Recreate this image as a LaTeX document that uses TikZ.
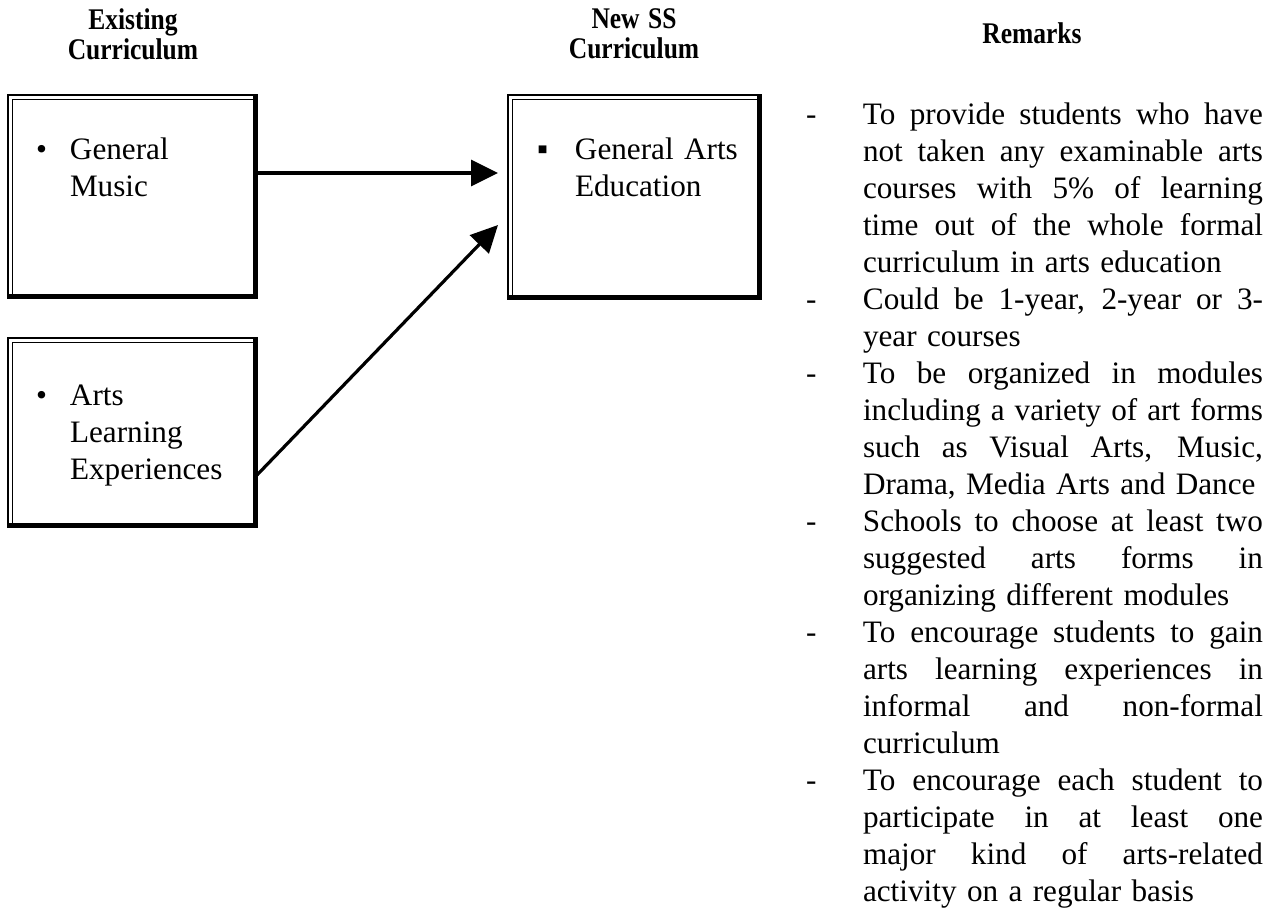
\documentclass[tikz,border=0pt]{standalone}
\usepackage{fontspec}
\setmainfont{Liberation Serif}
\usetikzlibrary{arrows.meta,calc}
\newcommand\J[1]{{\spaceskip=0pt\xspaceskip=0pt\makebox[\hsize][s]{#1}}}
\newcommand\dashitem{\leavevmode\llap{\makebox[57pt][l]{-}}}
\newcommand\hd[1]{\scalebox{0.85}[1]{#1}}
\begin{document}
\begin{tikzpicture}[x=1pt,y=-1pt,
  body/.style={inner sep=0pt, outer sep=0pt, anchor=north west, align=left,
    font=\fontsize{31.2}{37}\selectfont},
  head/.style={inner sep=0pt, anchor=north, align=center, text width=260pt,
    font=\fontsize{30}{28}\selectfont\bfseries},
  boxn/.style={inner sep=0pt, outer sep=0pt, draw=none},
  arr/.style={line width=3.2pt, -{Triangle[length=27pt,width=26pt]}}]
\useasboundingbox (0,0) rectangle (1282,914);
\newcommand\dbox[1]{%
  \draw[line width=2pt] (#1.north west) rectangle (#1.south east);
  \draw[line width=1pt] ([shift={(4,4)}]#1.north west) rectangle ([shift={(-4,-4)}]#1.south east);
  \draw[line width=4.5pt] ([shift={(-1.5,0)}]#1.north east) -- ([shift={(-1.5,-1.5)}]#1.south east) -- ([shift={(0,-1.5)}]#1.south west);}
% headers
\node[head] (h1) at (133,8) {\strut\hd{Existing}\\\hd{Curriculum}};
\node[head] (h2) at (634,8) {\strut\hd{New SS}\\\hd{Curriculum}};
\node[head] (h3) at (1032,22) {\strut\hd{Remarks}};
% boxes
\node[boxn, minimum width=249pt, minimum height=203pt] (b1) at (132.5,196.5) {};
\node[boxn, minimum width=249pt, minimum height=189pt] (b2) at (132.5,432.5) {};
\node[boxn, minimum width=253pt, minimum height=204pt] (b3) at (634.5,197) {};
\dbox{b1}\dbox{b2}\dbox{b3}
% box texts
\node[body, text width=180pt] (t1) at (70,134) {\leavevmode\strut\llap{\makebox[34pt][l]{•}}General\\Music};
\node[body, text width=180pt] (t2) at (70,380) {\leavevmode\strut\llap{\makebox[34pt][l]{•}}Arts\\Learning\\Experiences};
\node[body, text width=180pt] (t3) at (575,134) {\leavevmode\strut\llap{\makebox[38pt][l]{▪}}General Arts\\Education};
% arrows
\coordinate (a1e) at (498,173);
\coordinate (a2e) at (498,225);
\draw[arr] (b1.east |- a1e) -- (a1e);
\draw[arr] (b2.east |- 0,475) -- (a2e);
% remarks
\node[body, text width=400pt] (rem) at (863,99) {%
\dashitem\strut\J{To provide students who have}\\
\J{not taken any examinable arts}\\
\J{courses with 5\% of learning}\\
\J{time out of the whole formal}\\
curriculum in arts education\\
\dashitem\J{Could be 1-year, 2-year or 3-}\\
year courses\\
\dashitem\J{To be organized in modules}\\
\J{including a variety of art forms}\\
\J{such as Visual Arts, Music,}\\
Drama, Media Arts and Dance\\
\dashitem\J{Schools to choose at least two}\\
\J{suggested arts forms in}\\
organizing different modules\\
\dashitem\J{To encourage students to gain}\\
\J{arts learning experiences in}\\
\J{informal and non-formal}\\
curriculum\\
\dashitem\J{To encourage each student to}\\
\J{participate in at least one}\\
\J{major kind of arts-related}\\
activity on a regular basis};
\end{tikzpicture}
\end{document}
